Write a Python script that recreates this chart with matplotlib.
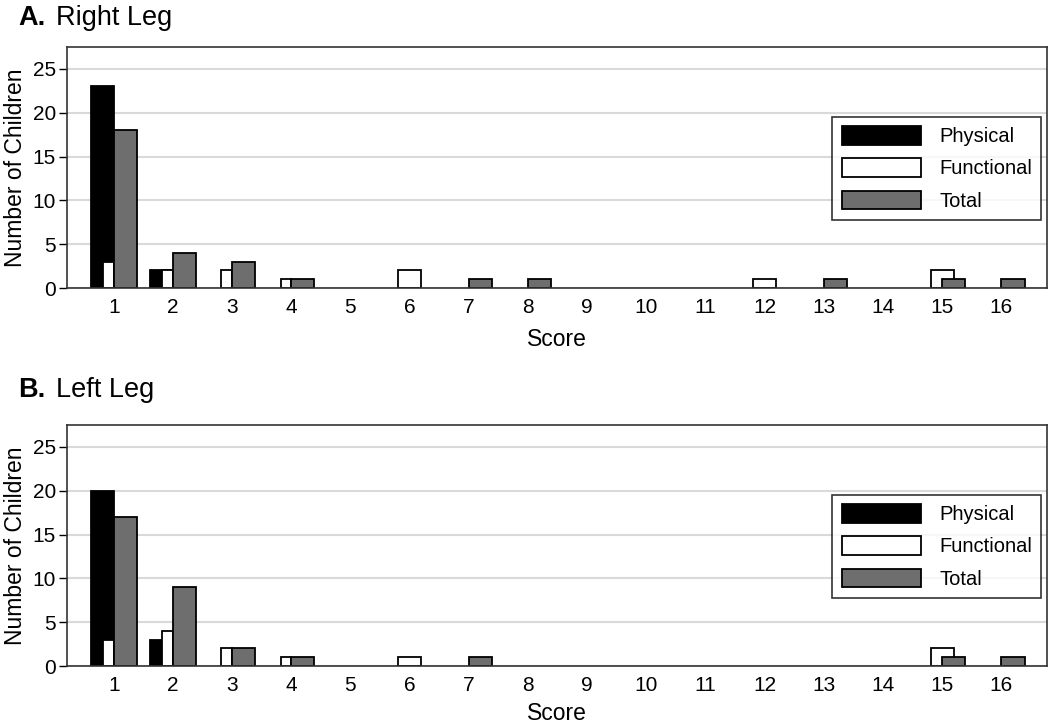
"""
Right/left leg score distributions: physical, functional and total scores.
"""

import matplotlib
matplotlib.use("Agg")
import matplotlib.pyplot as plt
import numpy as np
from matplotlib.patches import Patch

plt.rcParams["font.family"] = ["Liberation Sans", "DejaVu Sans"]

scores = np.arange(1, 17)

# Panel A: right leg
right_physical = [23, 2, 0, 0, 0, 0, 0, 0, 0, 0, 0, 0, 0, 0, 0, 0]
right_functional = [3, 2, 2, 1, 0, 2, 0, 0, 0, 0, 0, 1, 0, 0, 2, 0]
right_total = [18, 4, 3, 1, 0, 0, 1, 1, 0, 0, 0, 0, 1, 0, 1, 1]

# Panel B: left leg
left_physical = [20, 3, 0, 0, 0, 0, 0, 0, 0, 0, 0, 0, 0, 0, 0, 0]
left_functional = [3, 4, 2, 1, 0, 1, 0, 0, 0, 0, 0, 0, 0, 0, 2, 0]
left_total = [17, 9, 2, 1, 0, 0, 1, 0, 0, 0, 0, 0, 0, 0, 1, 1]

panel_titles = [("A.", "Right Leg"), ("B.", "Left Leg")]
series_names = ["Physical", "Functional", "Total"]
y_ticks = [0, 5, 10, 15, 20, 25]

GRAY = "#6e6e6e"
WIDE = 0.39
NARROW = 0.18


def draw_panel(axis, physical, functional, total, xlabel_pad):
    physical = np.asarray(physical)
    functional = np.asarray(functional)
    total = np.asarray(total)
    edge = dict(edgecolor="black", linewidth=1.3, zorder=3)

    keep = physical > 0
    axis.bar(scores[keep] - WIDE, physical[keep], width=WIDE, align="edge",
             color="black", **edge)

    # functional bar: narrow beside total when smaller, full width centred otherwise
    for score, func, tot in zip(scores, functional, total):
        if func == 0:
            continue
        if func > tot:
            axis.bar(score, func, width=WIDE, align="center", color="white", **edge)
        else:
            axis.bar(score - NARROW, func, width=NARROW, align="edge",
                     color="white", **edge)

    keep = total > 0
    axis.bar(scores[keep], total[keep], width=WIDE, align="edge",
             color=GRAY, **edge)

    axis.set_xlim(0.21, 16.77)
    axis.set_ylim(0, 27.5)
    axis.set_xticks(scores)
    axis.set_yticks(y_ticks)
    axis.tick_params(axis="x", length=0, pad=7, labelsize=15)
    axis.tick_params(axis="y", length=6, width=1, pad=2, labelsize=15)
    axis.yaxis.grid(True, color="#d9d9d9", linewidth=1.5, zorder=0)
    axis.set_axisbelow(True)
    for spine in axis.spines.values():
        spine.set_color("#333333")
        spine.set_linewidth(1.2)
        spine.set_zorder(4)
    axis.set_xlabel("Score", fontsize=16.5, labelpad=xlabel_pad)
    axis.set_ylabel("Number of Children", fontsize=16.5, labelpad=4)

    handles = [
        Patch(facecolor="black", edgecolor="black", linewidth=1.3),
        Patch(facecolor="white", edgecolor="black", linewidth=1.3),
        Patch(facecolor=GRAY, edgecolor="black", linewidth=1.3),
    ]
    legend = axis.legend(
        handles, series_names, loc="upper right", bbox_to_anchor=(0.994, 0.71),
        fontsize=14.5, frameon=True, fancybox=False, edgecolor="black",
        handlelength=3.95, handleheight=1.05, labelspacing=0.6,
        handletextpad=0.9, borderpad=0.45, borderaxespad=0,
    )
    legend.get_frame().set_linewidth(1.2)


figure = plt.figure(figsize=(10.5, 7.25), dpi=100)
axes_boxes = [
    (67 / 1050, 1 - 288 / 725, 980 / 1050, 241 / 725),
    (67 / 1050, 1 - 666 / 725, 980 / 1050, 241 / 725),
]
panel_data = [
    (right_physical, right_functional, right_total),
    (left_physical, left_functional, left_total),
]
title_y = [18, 390]
xlabel_pads = [8, 5]

for box, data, (letter, name), ty, pad in zip(
    axes_boxes, panel_data, panel_titles, title_y, xlabel_pads
):
    axis = figure.add_axes(box)
    draw_panel(axis, *data, pad)
    label = figure.text(18 / 1050, 1 - ty / 725, letter, fontsize=19.5,
                        fontweight="bold", va="center", ha="left")
    figure.canvas.draw()
    extent = label.get_window_extent()
    figure.text((extent.x1 + 11) / 1050, 1 - ty / 725, name, fontsize=19.5,
                va="center", ha="left")

figure.savefig("out.png", dpi=100)
plt.close(figure)
